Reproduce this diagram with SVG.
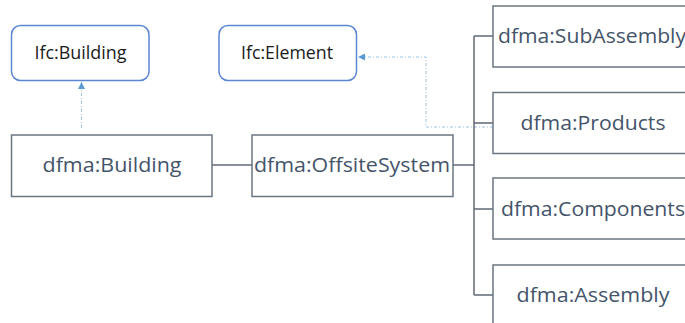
<svg xmlns="http://www.w3.org/2000/svg" width="685" height="323" viewBox="0 0 685 323">
<style>
.ifc{fill:#fff;stroke:#5b87d2;stroke-width:1.5}
.dfma{fill:#fff;stroke:#6b7582;stroke-width:1.5}
.ti{font-family:"Open Sans","Liberation Sans",sans-serif;font-size:17.5px;fill:#1a1a1a;text-anchor:middle}
.td{font-family:"Open Sans","Liberation Sans",sans-serif;font-size:19.5px;fill:#44546a;text-anchor:middle}
.solid{fill:none;stroke:#5f6875;stroke-width:1.5}
.dash{fill:none;stroke:#9dc3e6;stroke-width:1;stroke-dasharray:3 2 1 2}
</style>
<defs>
<marker id="ah" viewBox="0 0 10 10" refX="10" refY="5" markerWidth="7" markerHeight="7" orient="auto" markerUnits="userSpaceOnUse">
<path d="M0,0 L10,5 L0,10 z" fill="#5b9bd5"/>
</marker>
</defs>
<g id="connectors">
<path class="dash" d="M81.5,128 V82" marker-end="url(#ah)"/>
<path class="dash" d="M493,127 H426 V57 H358" marker-end="url(#ah)"/>
<path class="solid" d="M212,165 H252"/>
<path class="solid" d="M453,165 H474"/>
<path class="solid" d="M474,36 V295"/>
<path class="solid" d="M474,36 H493"/>
<path class="solid" d="M474,123 H493"/>
<path class="solid" d="M474,209 H493"/>
<path class="solid" d="M474,295 H493"/>
</g>
<g id="ifc-building">
<rect class="ifc" x="11.5" y="25.5" width="137.5" height="55" rx="9"/>
<text class="ti" x="80.5" y="59" textLength="92" lengthAdjust="spacingAndGlyphs">Ifc:Building</text>
</g>
<g id="ifc-element">
<rect class="ifc" x="219" y="25.5" width="137.5" height="55" rx="9"/>
<text class="ti" x="287" y="59" textLength="92" lengthAdjust="spacingAndGlyphs">Ifc:Element</text>
</g>
<g id="dfma-building">
<rect class="dfma" x="11.5" y="135" width="200.5" height="61.5"/>
<text class="td" x="112" y="172" textLength="139" lengthAdjust="spacingAndGlyphs">dfma:Building</text>
</g>
<g id="dfma-offsitesystem">
<rect class="dfma" x="252" y="135" width="201" height="61.5"/>
<text class="td" x="352" y="172" textLength="196" lengthAdjust="spacingAndGlyphs">dfma:OffsiteSystem</text>
</g>
<g id="dfma-subassembly">
<rect class="dfma" x="493" y="6" width="200" height="61"/>
<text x="498" y="43" class="td" style="text-anchor:start" textLength="188" lengthAdjust="spacingAndGlyphs">dfma:SubAssembly</text>
</g>
<g id="dfma-products">
<rect class="dfma" x="493" y="92.5" width="200" height="61"/>
<text class="td" x="593" y="130" textLength="145" lengthAdjust="spacingAndGlyphs">dfma:Products</text>
</g>
<g id="dfma-components">
<rect class="dfma" x="493" y="178" width="200" height="61"/>
<text x="501" y="216" class="td" style="text-anchor:start" textLength="184" lengthAdjust="spacingAndGlyphs">dfma:Components</text>
</g>
<g id="dfma-assembly">
<rect class="dfma" x="493" y="265" width="200" height="70"/>
<text class="td" x="593" y="302" textLength="153" lengthAdjust="spacingAndGlyphs">dfma:Assembly</text>
</g>
</svg>
